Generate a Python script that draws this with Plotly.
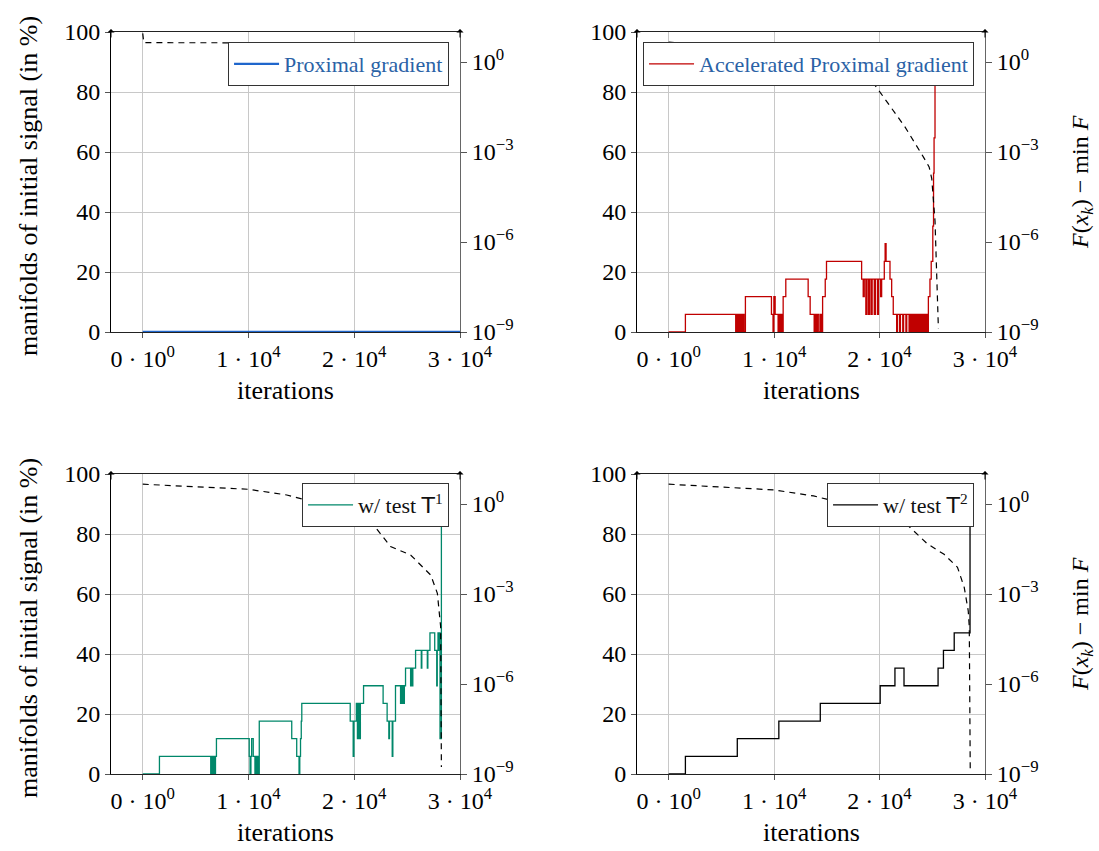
import plotly.graph_objects as go

# ---------------- data ----------------
# Proximal gradient
pg_x = [0, 30000]
pg_y = [0, 0]
pg_fx = [0, 100, 29100]
pg_fv = [9.0, 4.4, 4.3]

# Accelerated proximal gradient
apg_x = [0, 1590, 6360, 6450, 6550, 6650, 6750, 6850, 6950, 7050, 7150, 7280,
         9750, 9900, 9980, 10100, 10380, 10480, 10580, 10680, 10780, 10860, 11110,
         13230, 13420, 13800, 13900, 14000, 14120, 14250, 14400, 14500, 14600, 14850, 14970,
         18300, 18450, 18550, 18700, 18800, 18950, 19050, 19200, 19300, 19500, 19600,
         19800, 19900, 20100, 20200, 20450, 20530, 20620, 20990, 21150, 21300,
         21620, 21700, 21900, 21980, 22200, 22280, 22500, 22580, 22800, 22890,
         22950, 23050, 23120, 23220, 23300, 23400, 23480, 23580, 23660, 23760, 23840,
         23940, 24020, 24120, 24200, 24300, 24380, 24480, 24560, 24630, 24780, 24900,
         25050, 25120, 25170, 25260, 25350, 26030]
apg_y = [0, 5.88, 0, 5.88, 0, 5.88, 0, 5.88, 0, 5.88, 0, 11.76,
         5.88, 0, 11.76, 5.88, 0, 5.88, 0, 5.88, 0, 11.76, 17.65,
         11.76, 5.88, 0, 5.88, 0, 5.88, 0, 5.88, 0, 11.76, 17.65, 23.53,
         17.65, 11.76, 17.65, 5.88, 17.65, 5.88, 17.65, 5.88, 17.65, 5.88, 17.65,
         5.88, 17.65, 11.76, 17.65, 23.53, 29.41, 23.53, 17.65, 11.76, 5.88,
         0, 5.88, 0, 5.88, 0, 5.88, 0, 5.88, 0, 5.88,
         0, 5.88, 0, 5.88, 0, 5.88, 0, 5.88, 0, 5.88, 0,
         5.88, 0, 5.88, 0, 5.88, 0, 5.88, 0, 11.76, 17.65, 23.53,
         35.29, 52.94, 64.71, 83.0, 82.35, 82.35]
apg_fx = [0, 5000, 10000, 15000, 19560, 22410, 24150, 24700, 24950, 25260, 25580]
apg_fv = [4.6, 3.2, 2.0, 1.0, 0.17, 6.9e-3, 6.9e-4, 3.2e-4, 1.3e-4, 5.0e-6, 1.3e-9]

# with test T1
t1_x = [0, 1580, 6430, 6530, 6620, 6720, 6800, 6880, 6970,
        10070, 10150, 10230, 10300, 10450, 10610, 10700, 10780, 10870, 10950, 11020,
        14090, 14560, 14780, 14850, 14920, 14990, 15040,
        19620, 19900, 19970, 20200, 20300, 20380, 20500, 20580, 20880,
        22730, 23110, 23270, 23330, 23590, 23650, 23900,
        24380, 24430, 24540, 24590, 24690, 24740, 24850,
        25330, 25380, 25490, 25540, 25800,
        26340, 26390, 26910, 26960, 27160,
        27610, 27800, 27850, 27920, 27980, 28050, 28110, 28240]
t1_y = [0, 5.88, 0, 5.88, 0, 5.88, 0, 5.88, 11.76,
        5.88, 0, 5.88, 11.76, 5.88, 0, 5.88, 0, 5.88, 0, 17.65,
        11.76, 5.88, 0, 5.88, 11.76, 17.65, 23.53,
        17.65, 5.88, 17.65, 23.53, 11.76, 23.53, 11.76, 23.53, 29.41,
        23.53, 17.65, 11.76, 17.65, 5.88, 17.65, 29.41,
        23.53, 29.41, 23.53, 29.41, 23.53, 29.41, 35.29,
        29.41, 35.29, 29.41, 35.29, 41.18,
        35.29, 41.18, 35.29, 41.18, 47.06,
        41.18, 29.41, 41.18, 47.06, 41.18, 47.06, 11.76, 82.35]
t1_fx = [0, 10000, 13620, 18000, 21840, 23430, 25330, 27230, 27860, 28170, 28240]
t1_fv = [4.57, 3.09, 2.0, 0.8, 0.2, 0.038, 0.02, 4.3e-3, 1.05e-3, 8.1e-5, 1.7e-9]

# with test T2
t2_x = [0, 1590, 6510, 10450, 14380, 20060, 21460, 22320, 25550, 26060, 27080, 28580]
t2_y = [0, 5.88, 11.76, 17.65, 23.53, 29.41, 35.29, 29.41, 35.29, 41.18, 47.06, 82.35]
t2_fx = [0, 10000, 13740, 18000, 22700, 24540, 26120, 27390, 28030, 28410, 28510, 28600]
t2_fv = [4.57, 2.95, 1.86, 0.79, 0.19, 0.047, 0.021, 7.8e-3, 1.66e-3, 2.75e-4, 7.9e-5, 1.4e-9]

x_ticks = [0, 10000, 20000, 30000]
x_ticktext = ["0 · 10<sup>0</sup>", "1 · 10<sup>4</sup>", "2 · 10<sup>4</sup>", "3 · 10<sup>4</sup>"]
y_ticks = [0, 20, 40, 60, 80, 100]
f_ticks = [1e-9, 1e-6, 1e-3, 1]
f_ticktext = ["10<sup>−9</sup>", "10<sup>−6</sup>", "10<sup>−3</sup>", "10<sup>0</sup>"]

names = ["Proximal gradient", "Accelerated Proximal gradient",
         "w/ test <span style='font-family:DejaVu Sans'>T</span><sup>1</sup>",
         "w/ test <span style='font-family:DejaVu Sans'>T</span><sup>2</sup>"]
colors = ["#1f66cc", "#c00000", "#00876a", "#000000"]
line_widths = [2.4, 1.3, 1.3, 1.3]
legend_text_colors = ["#2a62a6", "#2a62a6", "#111111", "#111111"]
steps = [(pg_x, pg_y), (apg_x, apg_y), (t1_x, t1_y), (t2_x, t2_y)]
gaps = [(pg_fx, pg_fv), (apg_fx, apg_fv), (t1_fx, t1_fv), (t2_fx, t2_fv)]

# ---------------- layout geometry ----------------
W, H = 1099, 851
xdoms = [(111 / W, 460 / W), (637 / W, 985 / W)]
ydoms = [((H - 332) / H, (H - 32) / H), ((H - 774) / H, (H - 474) / H)]

FONT = "Liberation Serif"
fig = go.Figure()
layout = dict(
    width=W, height=H, margin=dict(l=0, r=0, t=0, b=0, autoexpand=False),
    paper_bgcolor="white", plot_bgcolor="white",
    font=dict(family=FONT, color="black"),
    showlegend=True,
)
annotations = []

for p in range(4):
    row, col = divmod(p, 2)
    xd = xdoms[col]
    yd = ydoms[row]
    xa = f"x{p + 1}" if p else "x"
    ya_l = f"y{2 * p + 1}" if p else "y"
    ya_r = f"y{2 * p + 2}"
    xname = "xaxis" + (str(p + 1) if p else "")
    ylname = "yaxis" + (str(2 * p + 1) if p else "")
    yrname = "yaxis" + str(2 * p + 2)
    leg = "legend" + (str(p + 1) if p else "")

    layout[xname] = dict(
        domain=list(xd), anchor=ya_l, range=[-3000, 30000],
        tickvals=x_ticks, ticktext=x_ticktext,
        showgrid=True, gridcolor="#c8c8c8", gridwidth=1,
        showline=True, linecolor="#222", linewidth=1, mirror=True,
        ticks="outside", ticklen=5, tickcolor="#555", zeroline=False,
        tickfont=dict(family=FONT, size=24), layer="below traces",
    )
    layout[ylname] = dict(
        domain=list(yd), anchor=xa, range=[0, 100],
        tickvals=y_ticks,
        showgrid=True, gridcolor="#c8c8c8", gridwidth=1,
        showline=True, linecolor="#000", linewidth=1,
        ticks="outside", ticklen=5, tickcolor="#555", zeroline=False,
        tickfont=dict(family=FONT, size=24),
    )
    layout[yrname] = dict(
        overlaying=ya_l, anchor=xa, side="right", type="log", range=[-9, 1],
        tickvals=f_ticks, ticktext=f_ticktext,
        showgrid=False, showline=True, linecolor="#666", linewidth=1,
        ticks="outside", ticklen=6, tickcolor="#555", zeroline=False,
        tickfont=dict(family=FONT, size=24),
    )
    lx = 0.4086 if col == 0 else 0.8863
    ly = 0.9506 if row == 0 else 0.4324
    layout[leg] = dict(
        x=lx, y=ly, xanchor="right", yanchor="top",
        bgcolor="white", bordercolor="#333", borderwidth=1,
        font=dict(family=FONT, size=22, color=legend_text_colors[p]),
        itemwidth=45, tracegroupgap=0,
    )

    sx, sy = steps[p]
    gx, gy = gaps[p]
    fig.add_trace(go.Scatter(
        x=gx, y=gy, xaxis=xa, yaxis=ya_r, mode="lines", showlegend=False,
        line=dict(color="black", width=1.2, dash="6px,5px"), line_shape="linear",
    ))
    fig.add_trace(go.Scatter(
        x=sx, y=sy, xaxis=xa, yaxis=ya_l, mode="lines", name=names[p], legend=leg,
        line=dict(color=colors[p], width=line_widths[p], shape="hv"),
    ))

    # axis arrows
    for xp in xd:
        annotations.append(dict(
            x=xp, y=yd[1] + 3 / H, xref="paper", yref="paper", text="",
            showarrow=True, ax=0, ay=10, arrowhead=1, arrowsize=1.2, arrowwidth=1,
            arrowcolor="black",
        ))
    xc = (xd[0] + xd[1]) / 2
    annotations.append(dict(
        x=xc, y=yd[0] - 58 / H, xref="paper", yref="paper", text="iterations",
        showarrow=False, font=dict(family=FONT, size=26), xanchor="center", yanchor="middle",
    ))
    yc = (yd[0] + yd[1]) / 2
    if col == 0:
        annotations.append(dict(
            x=28 / W, y=yc - 4 / H, xref="paper", yref="paper",
            text="manifolds of initial signal (in %)", textangle=-90,
            showarrow=False, font=dict(family=FONT, size=26), xanchor="center", yanchor="middle",
        ))
    else:
        annotations.append(dict(
            x=1082 / W, y=yc, xref="paper", yref="paper",
            text="<i>F</i>(<i>x<sub>k</sub></i>) − min <i>F</i>", textangle=-90,
            showarrow=False, font=dict(family=FONT, size=24), xanchor="center", yanchor="middle",
        ))

layout["annotations"] = annotations
fig.update_layout(**layout)
fig.write_html("out.html")
